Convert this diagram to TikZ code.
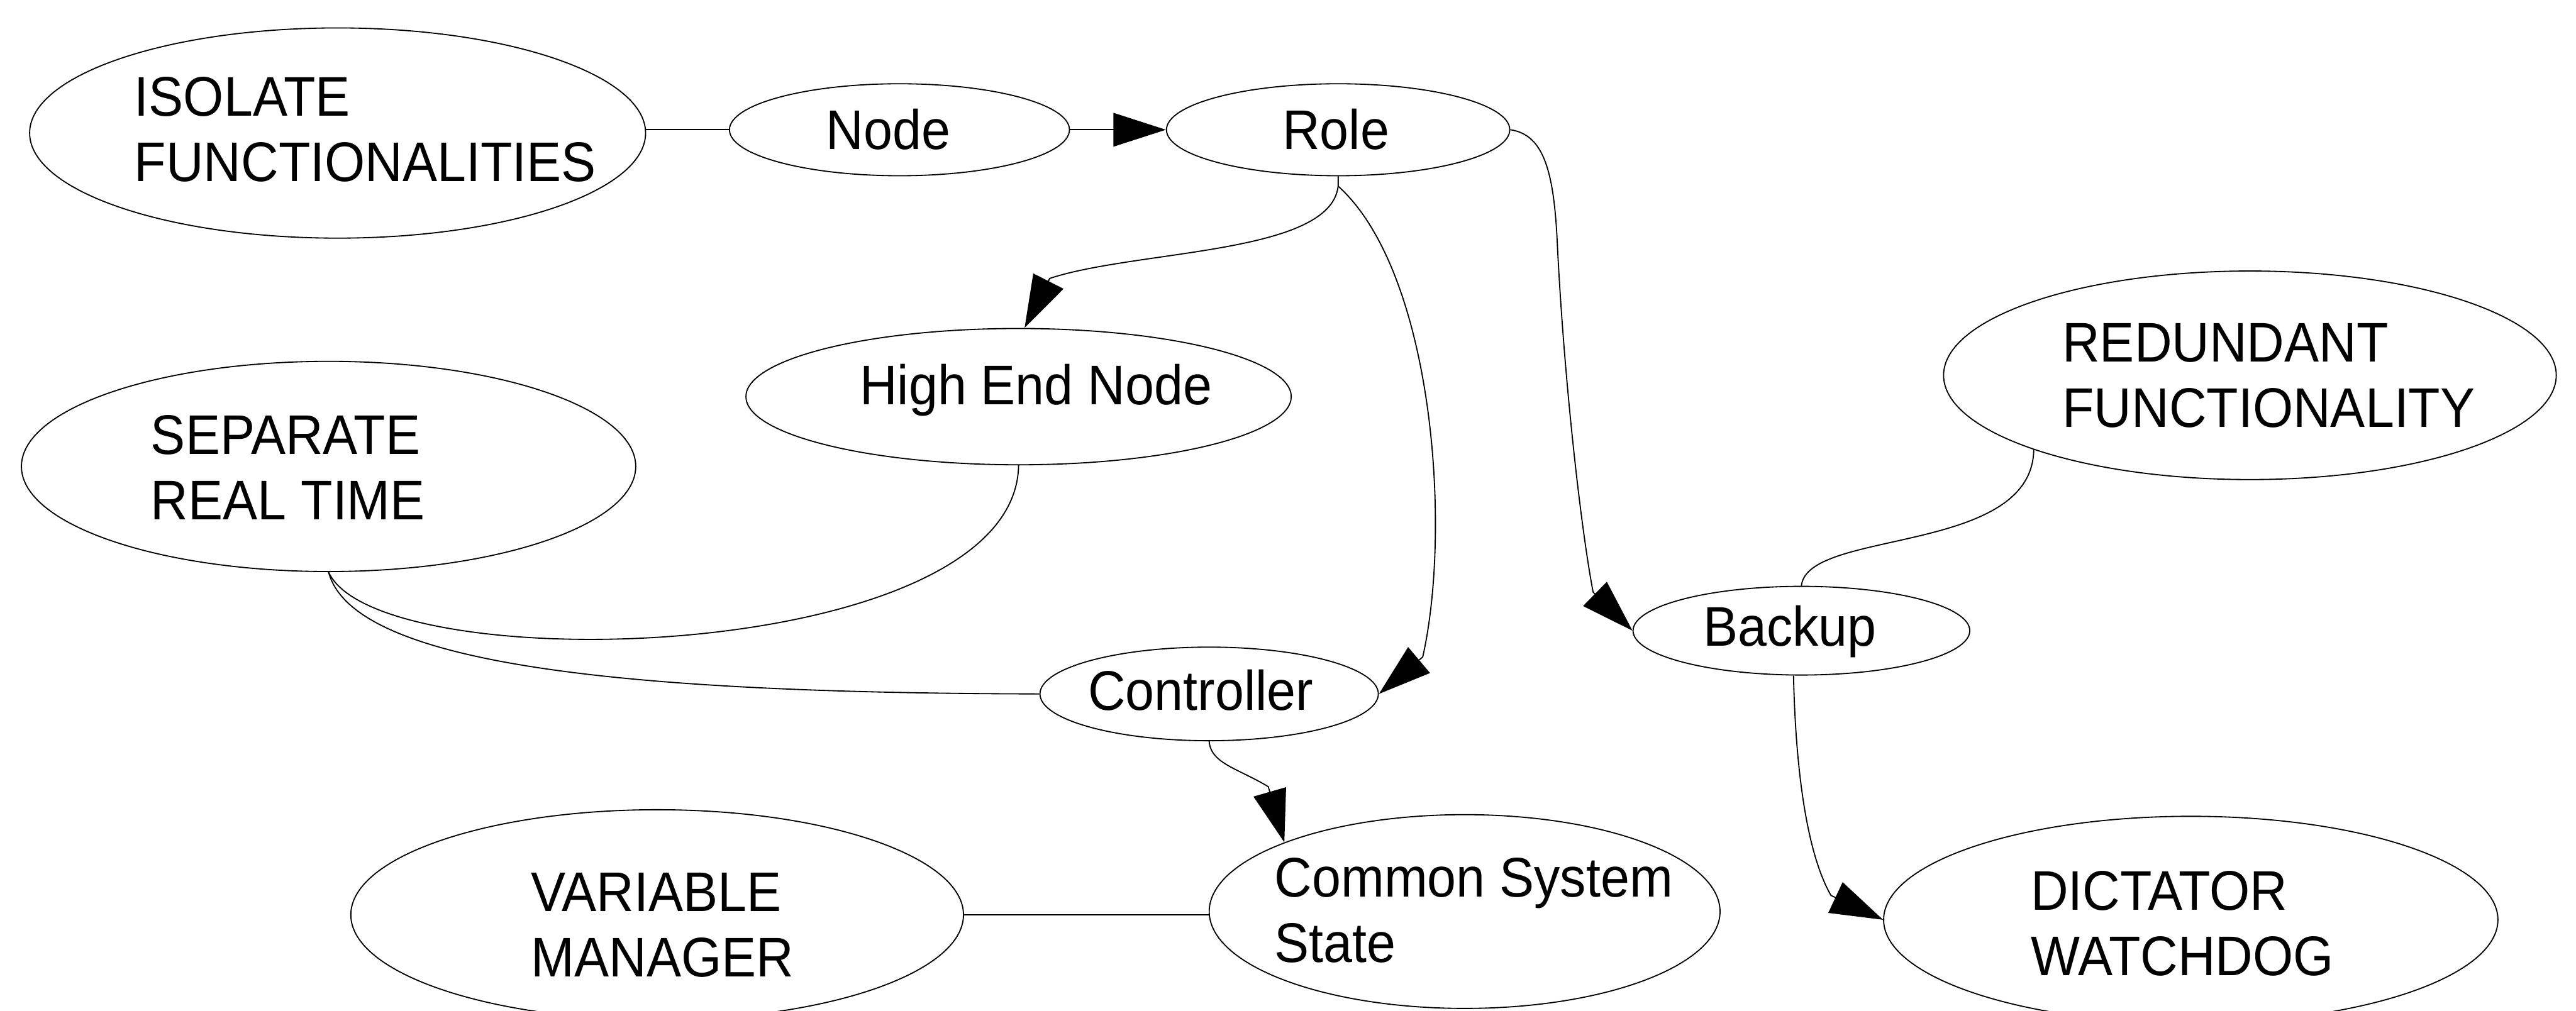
\documentclass[tikz,border=0pt]{standalone}
\usepackage{fontspec}
\setmainfont{Liberation Sans}[FakeStretch=0.93]
\usetikzlibrary{arrows.meta,shapes.geometric}

\tikzset{
  bubble/.style={draw, ellipse, inner sep=0pt, line width=0.4pt},
  lbl/.style={inner sep=0pt, align=left, font=\fontsize{19.35pt}{22.6pt}\selectfont},
  link/.style={line width=0.4pt},
  flow/.style={link, -{Triangle[length=0.64cm,width=0.41cm]}},
}

\begin{document}
\begin{tikzpicture}[x=0.02cm, y=-0.02cm]
\useasboundingbox (0,0) rectangle (1568,615.3);
\clip (0,0) rectangle (1568,615.3);

% ellipses
\node[bubble, minimum width=7.50cm, minimum height=2.56cm] (iso)    at (205.5,81)    {};
\node[bubble, minimum width=4.14cm, minimum height=1.12cm] (nd)     at (547.5,79)    {};
\node[bubble, minimum width=4.18cm, minimum height=1.12cm] (role)   at (814.5,79)    {};
\node[bubble, minimum width=6.64cm, minimum height=1.66cm] (hen)    at (620,241.5)   {};
\node[bubble, minimum width=7.48cm, minimum height=2.56cm] (sep)    at (200,284)     {};
\node[bubble, minimum width=4.12cm, minimum height=1.14cm] (ctrl)   at (736,422.5)   {};
\node[bubble, minimum width=7.46cm, minimum height=2.56cm] (var)    at (400,557)     {};
\node[bubble, minimum width=6.22cm, minimum height=2.36cm] (css)    at (891.5,555)   {};
\node[bubble, minimum width=4.10cm, minimum height=1.08cm] (backup) at (1096.5,384)  {};
\node[bubble, minimum width=7.46cm, minimum height=2.54cm] (red)    at (1369.5,228.5){};
\node[bubble, minimum width=7.48cm, minimum height=2.52cm] (dw)     at (1333.5,560)  {};

% labels
\node[lbl, anchor=west]      (iso-t)    at (81.5,78.7)   {ISOLATE\\FUNCTIONALITIES};
\node[lbl, anchor=base west] (nd-t)     at (502.5,91)    {Node};
\node[lbl, anchor=base west] (role-t)   at (780.3,91)    {Role};
\node[lbl, anchor=base west] (hen-t)    at (523,246.2)   {High End Node};
\node[lbl, anchor=west]      (sep-t)    at (91.5,284.6)  {SEPARATE\\REAL TIME};
\node[lbl, anchor=base west] (ctrl-t)   at (662,432.2)   {Controller};
\node[lbl, anchor=west]      (var-t)    at (323,563.2)   {VARIABLE\\MANAGER};
\node[lbl, anchor=west]      (css-t)    at (775.5,554.3) {Common System\\State};
\node[lbl, anchor=base west] (backup-t) at (1036.3,393.5){Backup};
\node[lbl, anchor=west]      (red-t)    at (1255,228.7)  {REDUNDANT\\FUNCTIONALITY};
\node[lbl, anchor=west]      (dw-t)     at (1235.8,562.3){DICTATOR\\WATCHDOG};

% connectors
\draw[link] (nd.west) -- (nd.west -| iso.east);
\draw[flow] (nd.east) -- (role.west);
\draw[flow] (role.south) -- ++(0,6) .. controls (810,155) and (692,152) .. (639,169.5) -- (hen.85);
\draw[flow] (role.south) -- ++(0,6) .. controls (872,165) and (884,320) .. (866,400) -- (ctrl.east);
\draw[flow] (role.east) .. controls (940,82) and (946,105) .. (948,150)
            .. controls (952,230) and (962,320) .. (969.7,360.5) -- (backup.west);
\draw[link] (hen.south) .. controls (618,405) and (230,415) .. (sep.south);
\draw[link] (sep.south) .. controls (215,405) and (380,422) .. (ctrl.west);
\draw[flow] (ctrl.south) .. controls (737,465) and (754,468) .. (772,479) -- (css.159);
\draw[link] (var.east) -- (var.east -| css.west);
\draw[link] (red.199) .. controls (1237,338) and (1100,322) .. (backup.north);
\draw[flow] (backup.-100) .. controls (1093,470) and (1100,520) .. (1114.5,545.2) -- (dw.west);
\end{tikzpicture}
\end{document}
